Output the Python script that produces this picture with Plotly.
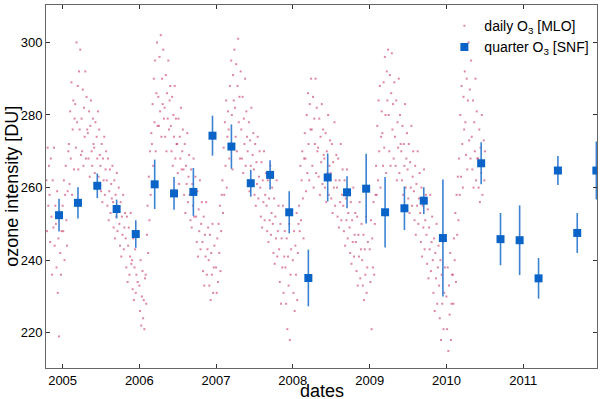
import pandas as pd
import plotly.graph_objects as go

# quarterly O3 at SNF (mid-month of each quarter), mean and error
snf_dates = ["2004-12-15", "2005-03-15", "2005-06-15", "2005-09-15", "2005-12-15",
             "2006-03-15", "2006-06-15", "2006-09-15", "2006-12-15",
             "2007-03-15", "2007-06-15", "2007-09-15", "2007-12-15",
             "2008-03-15", "2008-06-15", "2008-09-15", "2008-12-15",
             "2009-03-15", "2009-06-15", "2009-09-15", "2009-12-15",
             "2010-06-15", "2010-09-15", "2010-12-15",
             "2011-03-15", "2011-06-15", "2011-09-15", "2011-12-15"]
snf_o3 = [252.4, 255.8, 260.5, 254.1, 247.2,
          260.9, 258.4, 258.8, 274.3,
          271.3, 261.2, 263.5, 253.2,
          235.1, 262.8, 258.7, 259.7,
          253.2, 254.3, 256.4, 246.1,
          266.7, 245.8, 245.5,
          235.0, 264.7, 247.5, 264.7]
snf_err = [4.5, 4.3, 3.4, 2.6, 3.8,
           6.8, 4.5, 6.6, 5.5,
           6.1, 3.7, 4.0, 5.8,
           7.8, 6.6, 4.4, 9.6,
           9.7, 6.0, 3.7, 16.1,
           5.8, 7.2, 9.6,
           5.6, 4.0, 5.5, 8.0]

# daily O3 at MLO, read every ~3 days, one list per year
mlo_2004 = [262, 248, 271, 255, 266,
            258, 245, 268, 252, 236, 262, 249, 271, 244, 255,
            250, 238, 259, 231, 246, 219, 253, 242, 236, 248]
mlo_2005 = [255, 248, 262, 240, 258, 266, 251, 244, 259, 270,
            272, 261, 281, 268, 289, 258, 276, 284, 265, 279,
            283, 271, 300, 278, 288, 265, 292, 276, 298, 269,
            279, 270, 287, 266, 282, 274, 292, 268, 285, 276,
            275, 268, 281, 263, 277, 284, 270, 266, 279, 272,
            271, 264, 278, 260, 274, 268, 281, 263, 276, 269,
            266, 259, 272, 256, 268, 262, 274, 258, 265, 270,
            262, 255, 268, 251, 259, 265, 253, 261, 257, 266,
            256, 249, 262, 246, 258, 252, 264, 248, 254, 260,
            250, 244, 256, 241, 252, 247, 258, 243, 249, 253,
            246, 238, 252, 234, 244, 249, 236, 241, 253, 239,
            240, 232, 246, 229, 238, 243, 231, 236, 247, 234]
mlo_2006 = [233, 226, 240, 222, 230, 237, 224, 229, 221, 235,
            236, 228, 247, 255, 242, 263, 251, 270, 258, 275,
            272, 283, 266, 290, 278, 295, 270, 286, 300, 277,
            285, 277, 296, 281, 302, 274, 290, 283, 298, 279,
            282, 274, 291, 270, 286, 279, 295, 276, 284, 288,
            277, 270, 285, 266, 280, 274, 288, 268, 279, 272,
            272, 264, 279, 261, 274, 268, 282, 265, 270, 276,
            265, 258, 272, 253, 266, 261, 275, 256, 263, 269,
            258, 251, 265, 249, 261, 255, 268, 252, 259, 263,
            252, 245, 259, 241, 254, 248, 262, 243, 250, 256,
            245, 237, 252, 233, 247, 241, 256, 236, 243, 249,
            240, 233, 247, 229, 242, 236, 250, 231, 238, 244]
mlo_2007 = [238, 231, 246, 234, 250, 242, 255, 237, 248, 258,
            262, 253, 271, 258, 278, 266, 284, 260, 274, 281,
            276, 268, 288, 272, 295, 280, 265, 291, 284, 298,
            282, 274, 294, 270, 288, 301, 278, 285, 268, 292,
            276, 268, 285, 264, 279, 272, 290, 266, 281, 274,
            270, 262, 278, 259, 273, 266, 282, 261, 269, 275,
            265, 258, 272, 255, 267, 261, 274, 257, 263, 270,
            260, 252, 267, 249, 262, 256, 270, 251, 258, 264,
            255, 248, 262, 245, 257, 251, 266, 247, 253, 260,
            250, 242, 257, 239, 252, 246, 262, 241, 248, 255,
            243, 234, 250, 228, 246, 238, 255, 231, 241, 248,
            238, 228, 246, 221, 241, 233, 250, 218, 236, 243]
mlo_2008 = [240, 231, 248, 226, 244, 236, 253, 229, 242, 250,
            255, 248, 266, 251, 262, 270, 257, 246, 268, 275,
            268, 259, 280, 264, 286, 272, 262, 283, 276, 290,
            276, 266, 285, 260, 279, 272, 290, 264, 282, 270,
            271, 263, 279, 258, 274, 267, 283, 261, 276, 269,
            268, 260, 275, 256, 270, 264, 280, 258, 266, 273,
            264, 257, 272, 253, 267, 260, 278, 255, 262, 269,
            260, 252, 268, 249, 262, 256, 272, 251, 258, 265,
            255, 248, 262, 244, 257, 251, 265, 246, 253, 259,
            249, 242, 256, 239, 251, 245, 260, 241, 247, 253,
            245, 237, 252, 233, 247, 241, 256, 235, 243, 250,
            240, 233, 247, 229, 243, 236, 252, 231, 238, 245]
mlo_2009 = [243, 234, 251, 221, 246, 238, 256, 236, 250, 258,
            266, 258, 277, 262, 284, 270, 288, 260, 274, 281,
            275, 266, 289, 271, 296, 280, 264, 292, 284, 298,
            280, 270, 291, 266, 286, 297, 276, 283, 268, 289,
            274, 266, 284, 262, 278, 271, 290, 264, 280, 272,
            270, 262, 277, 258, 272, 266, 283, 260, 268, 275,
            265, 257, 272, 253, 267, 260, 277, 255, 263, 270,
            259, 251, 266, 247, 261, 255, 270, 250, 257, 264,
            253, 245, 260, 241, 255, 249, 265, 243, 251, 258,
            247, 239, 254, 235, 249, 243, 258, 237, 245, 252,
            240, 231, 246, 226, 242, 235, 250, 228, 238, 244,
            233, 224, 240, 218, 236, 228, 245, 221, 231, 238]
mlo_2010 = [230, 221, 238, 215, 233, 225, 242, 218, 228, 236,
            236, 228, 246, 240, 253, 234, 258, 247, 263, 251,
            268, 258, 280, 263, 288, 272, 260, 285, 276, 292,
            278, 269, 290, 265, 284, 300, 273, 287, 268, 295,
            274, 265, 284, 260, 278, 270, 290, 262, 281, 268,
            268, 260, 276, 256, 271, 264, 280, 258, 266, 273, 262, 270]

mlo_years = [("2004-10-16", mlo_2004), ("2005-01-01", mlo_2005), ("2006-01-01", mlo_2006),
             ("2007-01-01", mlo_2007), ("2008-01-01", mlo_2008), ("2009-01-01", mlo_2009),
             ("2010-01-01", mlo_2010)]

mlo_x, mlo_y = [], []
for start, vals in mlo_years:
    mlo_x += list(pd.date_range(start, periods=len(vals), freq="3D"))
    mlo_y += vals

font = "Liberation Sans, Arial, sans-serif"

fig = go.Figure()
fig.add_trace(go.Scatter(
    x=mlo_x, y=mlo_y, mode="markers", name="daily O<sub>3</sub> [MLO]", legendgroup="a",
    marker=dict(symbol="square", size=2, color="rgba(200,55,105,0.6)", line=dict(width=0))))
fig.add_trace(go.Scatter(
    x=snf_dates, y=snf_o3, mode="markers", name="quarter O<sub>3</sub> [SNF]", legendgroup="b",
    marker=dict(symbol="square", size=8, color="#0a64c8"),
    error_y=dict(type="data", array=snf_err, color="#3c82d2", thickness=1.6, width=0)))

axis_common = dict(showline=True, linecolor="#666", linewidth=1, mirror="ticks",
                   ticks="inside", ticklen=4, tickcolor="#333", showgrid=False, zeroline=False,
                   automargin=False,
                   tickfont=dict(size=13, color="black", family=font))

fig.update_xaxes(range=["2004-10-14", "2011-12-18"], tickformat="%Y", dtick="M12",
                 tick0="2005-01-01", **axis_common)
fig.update_yaxes(range=[210.3, 310.3], tickvals=[220, 240, 260, 280, 300], **axis_common)

fig.add_annotation(text="dates", xref="paper", yref="paper", x=0.5, y=-0.063,
                   xanchor="center", yanchor="middle", showarrow=False,
                   font=dict(size=18, color="black", family=font))
fig.add_annotation(text="ozone intensity [DU]", xref="paper", yref="paper", x=-0.063, y=0.5,
                   xanchor="center", yanchor="middle", textangle=-90, showarrow=False,
                   font=dict(size=18, color="black", family=font))

fig.update_layout(
    width=600, height=399,
    margin=dict(l=46, r=3, t=5, b=31),
    paper_bgcolor="white", plot_bgcolor="white",
    font=dict(family=font, color="black"),
    legend=dict(x=0.723, y=0.986, xanchor="left", yanchor="top", bgcolor="rgba(0,0,0,0)",
                tracegroupgap=0, font=dict(size=14, family=font, color="black")),
)

fig.write_html("out.html", config={"displayModeBar": False},
               post_script="document.body.style.margin='0';")
